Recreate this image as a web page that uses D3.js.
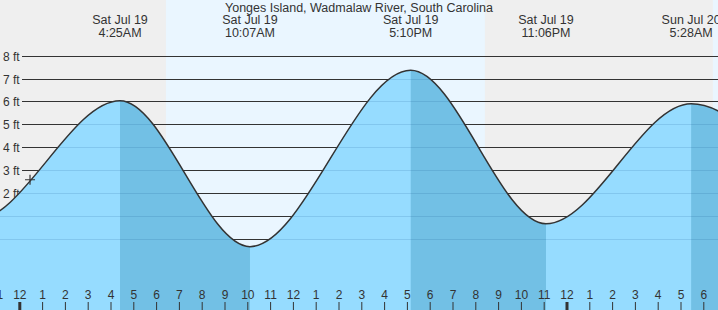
<!DOCTYPE html>
<html>
<head>
<meta charset="utf-8">
<script src="https://cdn.jsdelivr.net/npm/d3@7"></script>
<style>
  body { margin: 0; background: #fff; }
  svg text { font-family: "Liberation Sans", Arial, sans-serif; fill: #333; }
</style>
</head>
<body>
<div class="chart"></div>
<script>
// tide chart, Yonges Island - hours counted from Sat Jul 19 00:00

var svgWidth = 718;
var svgHeight = 310;

var title = "Yonges Island, Wadmalaw River, South Carolina";

// high / low tide predictions (hours, feet); first and last are off-screen
var tideTimes = [-8.0, -2.0, 4.417, 10.117, 17.167, 23.1, 29.467, 35.8];
var tideHeights = [7.2, 0.8, 6.05, -0.32, 7.38, 0.68, 5.92, -0.3];

// labelled extremes
var labelTimes = [4.417, 10.117, 17.167, 23.1, 29.467];
var labelDays = ["Sat Jul 19", "Sat Jul 19", "Sat Jul 19", "Sat Jul 19", "Sun Jul 20"];
var labelClock = ["4:25AM", "10:07AM", "5:10PM", "11:06PM", "5:28AM"];

// sunrise / sunset (hours)
var daylight = [[6.43, 20.42], [30.42, 44.4]];

// current time marker
var nowTime = 0.47;
var nowHeight = 2.6;

var feetTicks = [0, 1, 2, 3, 4, 5, 6, 7, 8];
var hourTicks = d3.range(-1, 31);

var x = d3.scaleLinear().domain([0, 30]).range([19.3, 703.3]);
var y = d3.scaleLinear().domain([0, 8]).range([239.3, 56.1]);

var svg = d3.select(".chart")
  .append("svg")
  .attr("width", svgWidth)
  .attr("height", svgHeight);

var points = tideTimes.map((t, i) => [t, tideHeights[i]]);

// night background, then day bands
svg.append("rect")
  .attr("width", svgWidth)
  .attr("height", svgHeight)
  .attr("fill", "#efefef");

svg.selectAll(".day")
  .data(daylight)
  .enter()
  .append("rect")
  .attr("x", d => x(d[0]))
  .attr("width", d => x(d[1]) - x(d[0]))
  .attr("y", 0)
  .attr("height", svgHeight)
  .attr("fill", "#eaf6ff");

function gridY(d) {
  return Math.floor(y(d)) + 0.5;
}

// dark grid lines
svg.selectAll(".grid")
  .data(feetTicks)
  .enter()
  .append("line")
  .attr("x1", 22)
  .attr("x2", svgWidth)
  .attr("y1", gridY)
  .attr("y2", gridY)
  .attr("stroke", "#333")
  .attr("stroke-width", 1.2);

svg.selectAll(".ylab")
  .data(feetTicks)
  .enter()
  .append("text")
  .attr("x", 3)
  .attr("y", d => y(d) + 4.5)
  .style("font-size", "12px")
  .text(d => d + " ft");

// water
var area = d3.area()
  .curve(d3.curveMonotoneX)
  .x(d => x(d[0]))
  .y0(svgHeight)
  .y1(d => y(d[1]));

var line = d3.line()
  .curve(d3.curveMonotoneX)
  .x(d => x(d[0]))
  .y(d => y(d[1]));

var defs = svg.append("defs");
defs.append("clipPath")
  .attr("id", "waterClip")
  .append("path")
  .attr("d", area(points));

// falling tide = from each high to the following low
var ebb = [];
for (var i = 0; i < tideTimes.length - 1; i++) {
  if (tideHeights[i] > tideHeights[i + 1]) ebb.push([tideTimes[i], tideTimes[i + 1]]);
}
defs.append("clipPath")
  .attr("id", "ebbClip")
  .selectAll("rect")
  .data(ebb)
  .enter()
  .append("rect")
  .attr("x", d => x(d[0]))
  .attr("width", d => x(d[1]) - x(d[0]))
  .attr("y", 0)
  .attr("height", svgHeight);

svg.append("path")
  .attr("d", area(points))
  .attr("fill", "#96dcff");

svg.append("path")
  .attr("d", area(points))
  .attr("clip-path", "url(#ebbClip)")
  .attr("fill", "#72c0e5");

// grid lines seen through the water
svg.append("g")
  .attr("clip-path", "url(#waterClip)")
  .selectAll("line")
  .data(feetTicks)
  .enter()
  .append("line")
  .attr("x1", 0)
  .attr("x2", svgWidth)
  .attr("y1", gridY)
  .attr("y2", gridY)
  .attr("stroke", "rgba(0,60,120,0.13)")
  .attr("stroke-width", 1.2);

svg.append("path")
  .attr("d", line(points))
  .attr("fill", "none")
  .attr("stroke", "#333")
  .attr("stroke-width", 1.5);

// current time cross
var cx = x(nowTime), cy = y(nowHeight);
svg.append("path")
  .attr("d", `M${cx - 5},${cy}H${cx + 5}M${cx},${cy - 5}V${cy + 5}`)
  .attr("stroke", "#333")
  .attr("stroke-width", 1.2);

// title and extreme labels
svg.append("text")
  .attr("x", 359)
  .attr("y", 12)
  .attr("text-anchor", "middle")
  .style("font-size", "12.5px")
  .text(title);

var labels = svg.selectAll(".ext")
  .data(labelTimes)
  .enter()
  .append("g")
  .attr("transform", d => `translate(${x(d)}, 0)`);

labels.append("text")
  .attr("y", 24)
  .attr("text-anchor", "middle")
  .style("font-size", "12.5px")
  .text((d, i) => labelDays[i]);

labels.append("text")
  .attr("y", 36.5)
  .attr("text-anchor", "middle")
  .style("font-size", "12.5px")
  .text((d, i) => labelClock[i]);

// hour axis along the bottom
var hourAxis = d3.axisTop(x)
  .tickValues(hourTicks)
  .tickSize(8)
  .tickPadding(3)
  .tickFormat(d => {
    var h = ((d % 24) + 24) % 24;
    return h % 12 === 0 ? "12" : String(h % 12);
  });

var axisG = svg.append("g")
  .attr("transform", `translate(0, ${svgHeight})`)
  .call(hourAxis);

axisG.select(".domain").remove();
axisG.selectAll("line").attr("stroke", "#333");
axisG.selectAll("text")
  .style("font-size", "12px")
  .attr("fill", "#333");
axisG.selectAll(".tick")
  .filter(d => d % 24 === 0)
  .select("line")
  .attr("stroke-width", 3);
</script>
</body>
</html>
